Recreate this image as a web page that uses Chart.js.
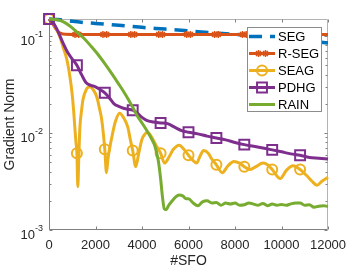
<!DOCTYPE html>
<html>
<head>
<meta charset="utf-8">
<script src="https://cdn.jsdelivr.net/npm/chart.js@4/dist/chart.umd.min.js"></script>
<style>
  body { margin: 0; background: #fff; }
  canvas { display: block; }
</style>
</head>
<body>
<canvas id="gradChart" width="362" height="271"></canvas>
<script>
// axis ticks
const xTicks = [0, 2000, 4000, 6000, 8000, 10000, 12000];
const yTicks = [0.001, 0.01, 0.1];
const yTickExps = ["-3", "-2", "-1"];

const seriesNames = ["SEG", "R-SEG", "SEAG", "PDHG", "RAIN"];

// SEG (dashed, no markers)
const segX = [0, 500, 1000, 1500, 2000, 3000, 4000, 5000, 6000, 7000, 8000, 9000, 10000, 11000, 12000];
const segY = [0.15, 0.147, 0.142, 0.138, 0.135, 0.129, 0.123, 0.118, 0.113, 0.108, 0.104, 0.099, 0.094, 0.089, 0.085];

// R-SEG
const rsegX = [0, 150, 300, 450, 600, 1120, 1280, 2320, 2480, 3520, 3680, 4720, 4880, 5920, 6080,
  7120, 7280, 8320, 8480, 9520, 9680, 10720, 10880, 12000];
const rsegY = [0.15, 0.135, 0.118, 0.108, 0.105, 0.104, 0.104, 0.104, 0.104, 0.104, 0.104, 0.104, 0.104,
  0.104, 0.104, 0.104, 0.104, 0.104, 0.104, 0.104, 0.104, 0.104, 0.104, 0.104];
const rsegMarks = [1120, 1280, 2320, 2480, 3520, 3680, 4720, 4880, 5920, 6080, 7120, 7280, 8320, 8480,
  9520, 9680, 10720, 10880];

// SEAG
const seagX = [0, 150, 300, 470, 620, 770, 900, 990, 1060, 1110, 1160, 1200, 1240, 1280, 1330, 1400, 1460,
  1600, 1757, 1900, 2057, 2170, 2270, 2400, 2470, 2540, 2620, 2700, 2850, 3040, 3200, 3390, 3500, 3600,
  3730, 3850, 3990, 4100, 4240, 4400, 4600, 4800, 4970, 5150, 5350, 5600, 5800, 6000, 6200, 6350, 6500,
  6650, 6850, 7000, 7200, 7450, 7700, 7950, 8200, 8400, 8650, 8900, 9200, 9400, 9600, 9950, 10200,
  10500, 10800, 11100, 11300, 11530, 11750, 12000];
const seagY = [0.15, 0.14, 0.12, 0.098, 0.075, 0.057, 0.038, 0.026, 0.017, 0.0115, 0.008, 0.0062, 0.0028,
  0.0055, 0.0115, 0.017, 0.022, 0.028, 0.030, 0.028, 0.0235, 0.018, 0.0136, 0.0068, 0.0039, 0.0055,
  0.0072, 0.009, 0.013, 0.016, 0.0145, 0.0115, 0.0085, 0.0066, 0.0045, 0.006, 0.0085, 0.0096, 0.0102,
  0.0092, 0.0075, 0.0062, 0.0049, 0.0056, 0.0068, 0.0075, 0.0068, 0.0059, 0.0052, 0.0049, 0.0058,
  0.0066, 0.0062, 0.0054, 0.0047, 0.0039, 0.0046, 0.0051, 0.0049, 0.0045, 0.0042, 0.0045, 0.0049,
  0.0047, 0.0042, 0.0034, 0.0041, 0.0046, 0.0042, 0.0036, 0.0032, 0.0029, 0.0032, 0.0035];
const seagMarks = [0, 1200, 2400, 3600, 4800, 6000, 7200, 8400, 9600, 10800];

// PDHG
const pdhgX = [0, 200, 400, 600, 800, 1000, 1200, 1400, 1600, 1800, 2000, 2200, 2400, 2600, 2800, 3000,
  3200, 3400, 3600, 3800, 4000, 4200, 4500, 4800, 5100, 5400, 5700, 6000, 6400, 6800, 7200, 7600, 8000,
  8400, 8800, 9200, 9600, 10000, 10400, 10800, 11200, 11600, 12000];
const pdhgY = [0.15, 0.135, 0.11, 0.085, 0.068, 0.058, 0.050, 0.040, 0.033, 0.031, 0.030, 0.028, 0.026,
  0.023, 0.020, 0.0188, 0.018, 0.0176, 0.0172, 0.016, 0.0145, 0.0135, 0.013, 0.0127, 0.0125, 0.0115,
  0.0106, 0.0102, 0.0098, 0.0093, 0.0089, 0.0085, 0.008, 0.0076, 0.0073, 0.007, 0.0067, 0.0064, 0.0061,
  0.0059, 0.0056, 0.0055, 0.0054];
const pdhgMarks = [0, 1200, 2400, 3600, 4800, 6000, 7200, 8400, 9600, 10800];

// RAIN (no markers)
const rainX = [0, 300, 600, 900, 1200, 1500, 1800, 2100, 2400, 2700, 3000, 3200, 3400, 3600, 3800, 4000,
  4200, 4400, 4550, 4700, 4800, 4880, 4960, 5040, 5150, 5300, 5450, 5600, 5750, 5900, 6000, 6200, 6400,
  6600, 6800, 7000, 7200, 7400, 7600, 7800, 8000, 8200, 8400, 8600, 8800, 9000, 9200, 9400, 9600, 9800,
  10000, 10200, 10400, 10600, 10800, 11000, 11200, 11400, 11600, 11800, 12000];
const rainY = [0.15, 0.148, 0.141, 0.127, 0.11, 0.095, 0.079, 0.065, 0.052, 0.041, 0.032, 0.027, 0.0225,
  0.0185, 0.015, 0.0127, 0.0107, 0.0088, 0.0074, 0.0052, 0.0034, 0.0022, 0.00165, 0.00162, 0.0018,
  0.002, 0.0022, 0.0023, 0.00225, 0.0021, 0.0021, 0.0019, 0.00178, 0.00195, 0.002, 0.0019, 0.00192,
  0.0018, 0.0019, 0.00185, 0.0019, 0.0018, 0.00182, 0.0019, 0.00185, 0.0018, 0.00188, 0.00178, 0.00185,
  0.0018, 0.00183, 0.0018, 0.00186, 0.0019, 0.0019, 0.0018, 0.00182, 0.00172, 0.00176, 0.00178, 0.00175];

const colors = ["#0072BD", "#D95319", "#EDB120", "#7E2F8E", "#77AC30"];
const FONT = '"Liberation Sans", Arial, Helvetica, sans-serif';
const TEXT = "#262626";

const toPoints = (xs, ys) => xs.map((x, i) => ({ x: x, y: ys[i] }));
const markAt = (marks, r) => (c) => (c.raw && marks.includes(c.raw.x) ? r : 0);

// box, inward ticks and y labels in the MATLAB look
const matlabAxes = {
  id: "matlabAxes",
  beforeDatasetsDraw(chart) {
    const { ctx, chartArea: a, scales } = chart;
    const x = scales.x, y = scales.y;
    const L = Math.round(a.left) + 0.5, R = Math.round(a.right) - 0.5;
    const T = Math.round(a.top) + 0.5, B = Math.round(a.bottom) - 0.5;
    ctx.save();
    ctx.lineWidth = 1;
    ctx.strokeStyle = "#b3b3b3";
    ctx.beginPath();
    ctx.moveTo(L, T); ctx.lineTo(R, T); ctx.lineTo(R, B);
    ctx.stroke();
    ctx.strokeStyle = "#808080";
    ctx.beginPath();
    ctx.moveTo(L, T); ctx.lineTo(L, B); ctx.lineTo(R, B);
    ctx.stroke();
    // x ticks, bottom and top
    ctx.beginPath();
    xTicks.forEach((v) => {
      const px = Math.round(x.getPixelForValue(v)) + 0.5;
      ctx.moveTo(px, B); ctx.lineTo(px, B - 3);
      ctx.moveTo(px, T); ctx.lineTo(px, T + 3);
    });
    // y ticks, major and minor, left and right
    yTicks.forEach((v) => {
      for (let m = 1; m <= 9; m++) {
        const val = v * m;
        if (val > y.max * 1.0001) break;
        const py = Math.round(y.getPixelForValue(val)) + 0.5;
        const len = m === 1 ? 3 : 2;
        ctx.moveTo(L, py); ctx.lineTo(L + len, py);
        ctx.moveTo(R, py); ctx.lineTo(R - len, py);
      }
    });
    ctx.stroke();
    ctx.restore();
  },
  afterDraw(chart) {
    const { ctx, chartArea: a, scales } = chart;
    const y = scales.y;
    ctx.save();
    ctx.fillStyle = TEXT;
    ctx.textAlign = "right";
    ctx.textBaseline = "alphabetic";
    const right = a.left - 6;
    yTicks.forEach((v, i) => {
      const py = y.getPixelForValue(v);
      ctx.font = "9px " + FONT;
      const sw = ctx.measureText(yTickExps[i]).width;
      ctx.fillText(yTickExps[i], right, py + 1);
      ctx.font = "13px " + FONT;
      ctx.fillText("10", right - sw, py + 9);
    });

    // legend box inside the axes
    const bx = 247, by = 27, bw = 75, bh = 85;
    ctx.fillStyle = "#fff";
    ctx.fillRect(bx, by, bw, bh);
    ctx.strokeStyle = "#8c8c8c";
    ctx.lineWidth = 1;
    ctx.strokeRect(bx + 0.5, by + 0.5, bw - 1, bh - 1);
    ctx.font = "13px " + FONT;
    ctx.textAlign = "left";
    ctx.textBaseline = "middle";
    chart.data.datasets.forEach((ds, i) => {
      const ly = by + 9.5 + i * 17;
      const x0 = bx + 2, x1 = bx + 28, xm = (x0 + x1) / 2;
      ctx.save();
      ctx.strokeStyle = ds.borderColor;
      ctx.lineWidth = ds.borderWidth;
      ctx.setLineDash(ds.borderDash || []);
      ctx.beginPath();
      ctx.moveTo(x0, ly); ctx.lineTo(x1, ly);
      ctx.stroke();
      ctx.setLineDash([]);
      if (ds.legendMarker) {
        ctx.strokeStyle = ds.borderColor;
        ctx.fillStyle = "rgba(0,0,0,0)";
        ctx.lineWidth = ds.pointBorderWidth;
        const opts = { pointStyle: ds.pointStyle, rotation: 0, radius: ds.legendMarker.r, borderWidth: ds.pointBorderWidth };
        ds.legendMarker.dx.forEach((dx) => Chart.helpers.drawPoint(ctx, opts, xm + dx, ly));
      }
      ctx.restore();
      ctx.fillStyle = "#000";
      ctx.fillText(seriesNames[i], bx + 31, ly + 0.5);
    });
    ctx.restore();
  }
};

document.addEventListener("DOMContentLoaded", function () {
  const ctx = document.getElementById("gradChart").getContext("2d");

  new Chart(ctx, {
    type: "line",
    data: {
      datasets: [
        {
          label: seriesNames[0],
          data: toPoints(segX, segY),
          borderColor: colors[0],
          borderWidth: 3.5,
          borderDash: [13, 8],
          pointRadius: 0,
          order: 5
        },
        {
          label: seriesNames[1],
          data: toPoints(rsegX, rsegY),
          borderColor: colors[1],
          borderWidth: 3,
          pointStyle: "star",
          pointRadius: markAt(rsegMarks, 3.5),
          pointBorderColor: colors[1],
          pointBackgroundColor: colors[1],
          pointBorderWidth: 1.5,
          legendMarker: { r: 3.5, dx: [-3.5, 3.5] },
          order: 4
        },
        {
          label: seriesNames[2],
          data: toPoints(seagX, seagY),
          borderColor: colors[2],
          borderWidth: 3,
          pointStyle: "circle",
          pointRadius: markAt(seagMarks, 5),
          pointBorderColor: colors[2],
          pointBackgroundColor: "rgba(0,0,0,0)",
          pointBorderWidth: 2,
          legendMarker: { r: 5, dx: [0] },
          order: 3
        },
        {
          label: seriesNames[3],
          data: toPoints(pdhgX, pdhgY),
          borderColor: colors[3],
          borderWidth: 3,
          pointStyle: "rect",
          pointRadius: markAt(pdhgMarks, 7),
          pointBorderColor: colors[3],
          pointBackgroundColor: "rgba(0,0,0,0)",
          pointBorderWidth: 2,
          legendMarker: { r: 7, dx: [0] },
          order: 2
        },
        {
          label: seriesNames[4],
          data: toPoints(rainX, rainY),
          borderColor: colors[4],
          borderWidth: 3,
          pointRadius: 0,
          order: 1
        }
      ]
    },
    options: {
      responsive: false,
      animation: false,
      events: [],
      devicePixelRatio: 1,
      clip: false,
      layout: { padding: { left: 0, top: 19, right: 34, bottom: 0 } },
      elements: {
        line: { cubicInterpolationMode: "monotone", borderCapStyle: "butt", borderJoinStyle: "round" },
        point: { hoverRadius: 0 }
      },
      plugins: { legend: { display: false }, tooltip: { enabled: false } },
      scales: {
        x: {
          type: "linear",
          min: 0,
          max: 12000,
          afterFit: (s) => { s.height = 41; },
          grid: { display: false, drawTicks: false },
          border: { display: false },
          ticks: {
            stepSize: 2000,
            autoSkip: false,
            maxRotation: 0,
            padding: 8,
            color: TEXT,
            font: { family: FONT, size: 13 },
            callback: (v) => String(v)
          },
          title: {
            display: true,
            text: "#SFO",
            color: TEXT,
            font: { family: FONT, size: 14 },
            padding: { top: 0, bottom: 1 }
          }
        },
        y: {
          type: "logarithmic",
          min: 0.001,
          max: 0.15,
          afterFit: (s) => { s.width = 49; },
          grid: { display: false, drawTicks: false },
          border: { display: false },
          ticks: { display: false },
          title: {
            display: true,
            text: "Gradient Norm",
            color: TEXT,
            font: { family: FONT, size: 14 },
            padding: { top: 2, bottom: 0 }
          }
        }
      }
    },
    plugins: [matlabAxes]
  });
});
</script>
</body>
</html>
